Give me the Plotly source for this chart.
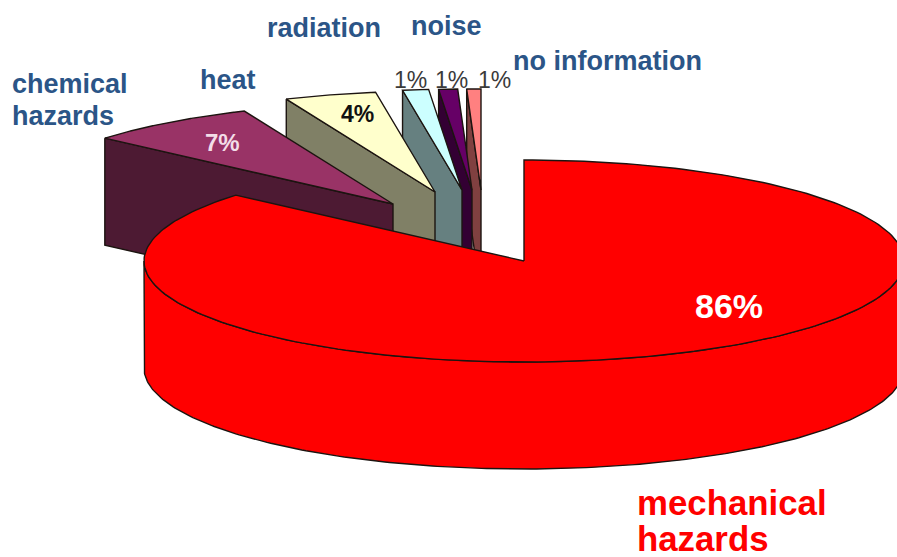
import numpy as np
import plotly.graph_objects as go

# ---- data ----
categories = ["mechanical hazards", "chemical hazards", "heat", "radiation", "noise", "no information"]
shares = [86.3, 7.3, 3.9, 1.1, 0.8, 0.6]

# ---- styling / geometry of the projected pie ----
W, H = 897, 557
CX, CY, A, B, DEPTH = 524, 261, 380, 101, 107
top_colors = ["#FF0000", "#993366", "#FFFFCC", "#CCFFFF", "#660066", "#FF8080"]
wall_colors = ["#FF0000", "#4D1A33", "#808066", "#668080", "#330033", "#804040"]
explode = [(0, 0), (-131, -57), (-89, -69), (-62, -71), (-52, -71), (-43, -71)]
EDGE = "#1c1410"
EDGE_W = 1.4
BLUE = "#2B5587"

label_pos = [[(635, 502), (635, 538)], [(10, 84), (10, 116)], [(198, 80)], [(265, 28)], [(409, 26)], [(511, 61)]]
label_col = ["#FF0000", BLUE, BLUE, BLUE, BLUE, BLUE]
label_size = [34.8, 27, 27, 27, 27, 27]
label_lines = [["mechanical", "hazards"], ["chemical", "hazards"], ["heat"], ["radiation"], ["noise"], ["no information"]]

pct_pos = [(729, 306), (222, 142), (357, 114), (410, 80), (451, 80), (494, 80)]
pct_col = ["#FFFFFF", "#F3DDE8", "#111111", "#3A3A3A", "#3A3A3A", "#3A3A3A"]
pct_size = [34, 24, 23, 23, 23, 23]
pct_bold = [True, True, True, False, False, False]


def arc(t0, t1, ox=0, oy=0, dz=0, n=240):
    t = np.radians(np.linspace(t0, t1, n))
    return CX + ox + A * np.sin(t), CY + oy + dz - B * np.cos(t)


edges = np.cumsum([0] + shares) / sum(shares) * 360
fig = go.Figure()


def poly(x, y, color, name):
    fig.add_trace(go.Scatter(x=list(x), y=list(y), mode="lines", fill="toself", fillcolor=color,
                             line=dict(color=EDGE, width=EDGE_W), name=name, showlegend=False,
                             hoverinfo="name"))


# Back slices first: the last one in the ring is the furthest behind
for i in range(len(shares) - 1, -1, -1):
    ox, oy = explode[i]
    t0, t1 = edges[i], edges[i + 1]
    ax, ay = CX + ox, CY + oy
    if i == 0:
        xt, yt = arc(90, 270)
        xb, yb = arc(270, 90, dz=DEPTH)
        poly(np.r_[xt, xb, xt[0]], np.r_[yt, yb, yt[0]], wall_colors[i], categories[i])
    else:
        x0, y0 = arc(t0, t0, ox, oy, n=1)
        poly([x0[0], ax, ax, x0[0], x0[0]],
             [y0[0], ay, ay + DEPTH, y0[0] + DEPTH, y0[0]], wall_colors[i], categories[i])
    xa, ya = arc(t0, t1, ox, oy)
    poly(np.r_[ax, xa, ax], np.r_[ay, ya, ay], top_colors[i], categories[i])

ann = []
for lines, poss, col, size in zip(label_lines, label_pos, label_col, label_size):
    for line, (x, y) in zip(lines, poss):
        ann.append(dict(x=x, y=y, text=f"<b>{line}</b>", showarrow=False, xanchor="left", yanchor="middle",
                        font=dict(family="Liberation Sans", size=size, color=col)))
for v, (x, y), col, size, bold in zip(shares, pct_pos, pct_col, pct_size, pct_bold):
    txt = f"{v:.0f}%"
    ann.append(dict(x=x, y=y, text=f"<b>{txt}</b>" if bold else txt, showarrow=False,
                    font=dict(family="Liberation Sans", size=size, color=col)))

fig.update_layout(
    width=W, height=H, autosize=False, margin=dict(l=0, r=0, t=0, b=0),
    paper_bgcolor="white", plot_bgcolor="white", annotations=ann,
    xaxis=dict(range=[0, W], visible=False, fixedrange=True),
    yaxis=dict(range=[H, 0], visible=False, fixedrange=True),
)
fig.write_html("out.html", config={"displayModeBar": False},
               post_script="document.body.style.margin='0';document.body.style.overflow='hidden';")
